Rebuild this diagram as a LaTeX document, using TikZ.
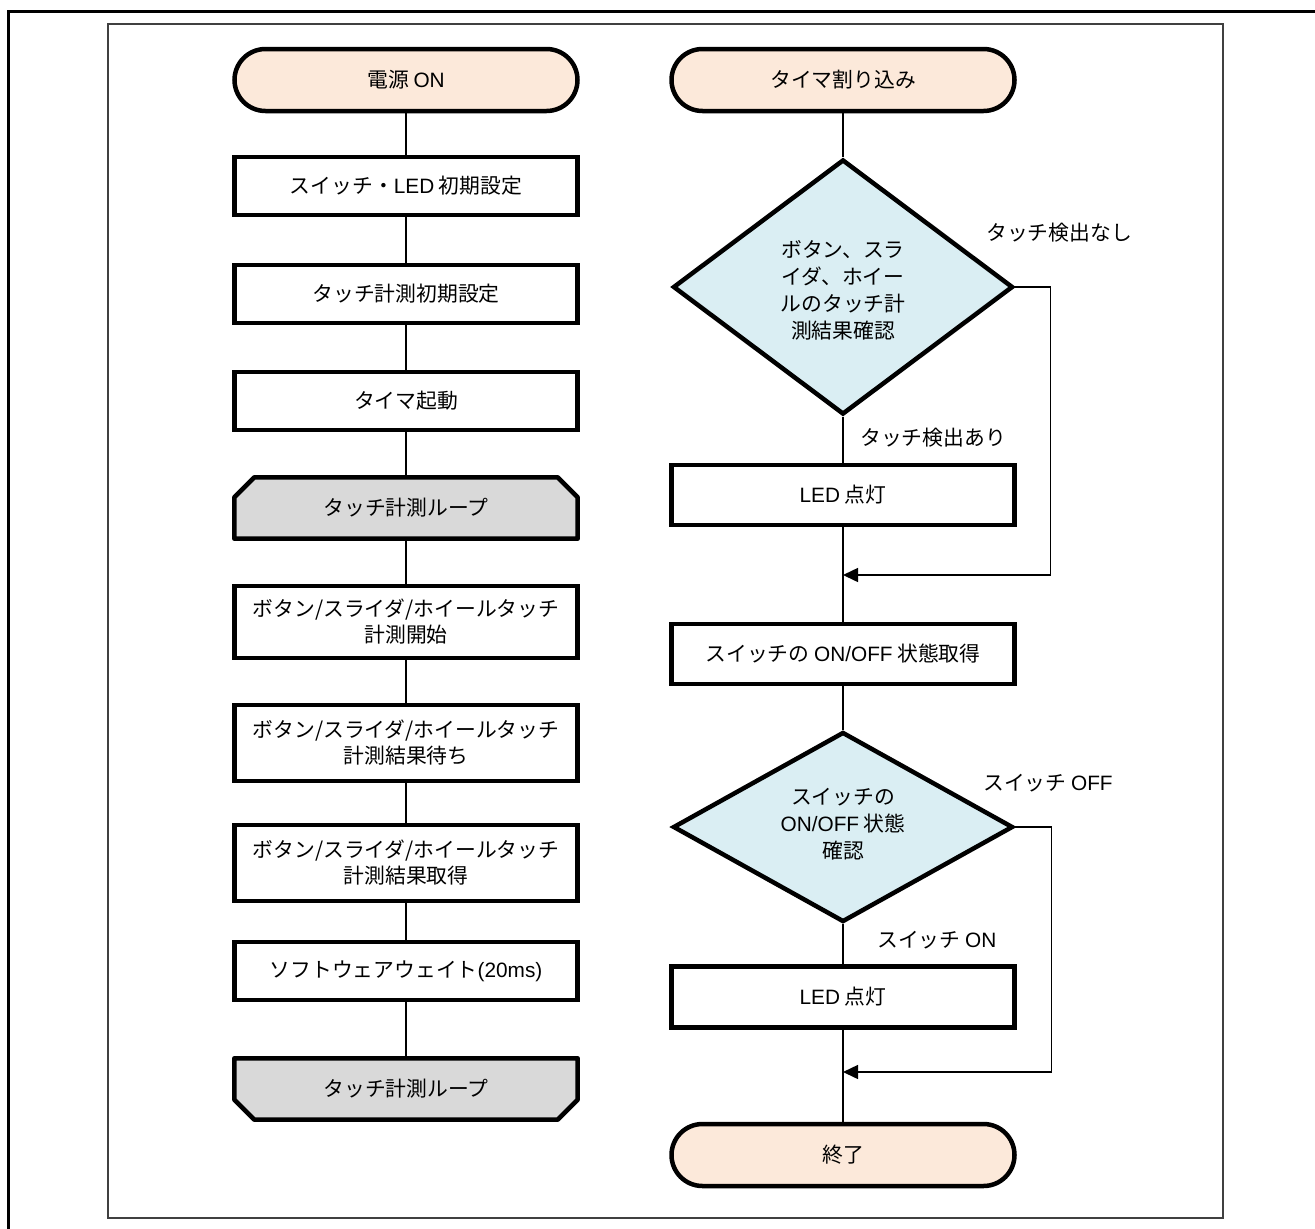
\documentclass[tikz,border=0pt]{standalone}
\usepackage{fontspec}
\setmainfont{Noto Sans CJK JP}
\newfontfamily\latinfont{Liberation Sans}
\newcommand\E[1]{{\latinfont #1}}
\usetikzlibrary{shapes.geometric,arrows.meta,backgrounds,calc}
\definecolor{termfill}{HTML}{FCE9DA}
\definecolor{decfill}{HTML}{DAEEF3}
\definecolor{loopfill}{HTML}{D9D9D9}
\begin{document}
\begin{tikzpicture}[x=1pt,y=-1pt,
  every node/.style={font=\fontsize{20.8}{26}\selectfont, inner sep=0pt, align=center},
  term/.style={draw, line width=4.5pt, fill=termfill, rounded corners=31pt, minimum width=343pt, minimum height=62pt},
  procbox/.style={draw, line width=4.5pt, fill=white, minimum width=343pt, minimum height=58pt},
  loopbox/.style={minimum width=343pt, minimum height=61pt},
  loopline/.style={draw, line width=4.5pt, fill=loopfill, line join=round},
  decision/.style={draw, diamond, line width=4.5pt, fill=decfill, minimum width=340pt, minimum height=255pt},
  conn/.style={line width=1.5pt},
  arr/.style={line width=1.5pt, -{Triangle[length=15pt,width=14pt]}},
  lbl/.style={anchor=west}
]
\useasboundingbox (0,0) rectangle (1315,1229);
% frames
\draw[line width=3pt] (8,1240) -- (8,11) -- (1330,11);
\draw[line width=1.6pt, black!75] (108,24) rectangle (1223,1218);

% left column
\node[term] (start) at (406,80) {電源 \E{ON}};
\node[procbox] (b1) at (406,186) {スイッチ・\E{LED} 初期設定};
\node[procbox] (b2) at (406,294) {タッチ計測初期設定};
\node[procbox] (b3) at (406,401) {タイマ起動};
\node[loopbox] (loop1) at (406,508) {タッチ計測ループ};
\node[procbox, minimum height=72pt] (b4) at (406,622) {ボタン/スライダ/ホイールタッチ\\計測開始};
\node[procbox, minimum height=76pt] (b5) at (406,743) {ボタン/スライダ/ホイールタッチ\\計測結果待ち};
\node[procbox, minimum height=76pt] (b6) at (406,863) {ボタン/スライダ/ホイールタッチ\\計測結果取得};
\node[procbox] (b7) at (406,971) {ソフトウェアウェイト\E{(20ms)}};
\node[loopbox] (loop2) at (406,1089) {タッチ計測ループ};
\begin{scope}[on background layer]
\fill[white] (0,0) rectangle (1315,1229);
\path[loopline] (loop1.south west) -- ($(loop1.north west)+(0,20)$) -- ($(loop1.north west)+(20,0)$)
  -- ($(loop1.north east)+(-20,0)$) -- ($(loop1.north east)+(0,20)$) -- (loop1.south east) -- cycle;
\path[loopline] (loop2.north west) -- ($(loop2.south west)+(0,-20)$) -- ($(loop2.south west)+(20,0)$)
  -- ($(loop2.south east)+(-20,0)$) -- ($(loop2.south east)+(0,-20)$) -- (loop2.north east) -- cycle;
\end{scope}
\draw[conn] (start) -- (b1);
\draw[conn] (b1) -- (b2);
\draw[conn] (b2) -- (b3);
\draw[conn] (b3) -- (loop1);
\draw[conn] (loop1) -- (b4);
\draw[conn] (b4) -- (b5);
\draw[conn] (b5) -- (b6);
\draw[conn] (b6) -- (b7);
\draw[conn] (b7) -- (loop2);

% right column
\node[term] (t2) at (843,80) {タイマ割り込み};
\node[decision] (d1) at (843,287) {};
\node[font=\fontsize{20.8}{27}\selectfont] (d1t) at (843,290) {ボタン、スラ\\イダ、ホイー\\ルのタッチ計\\測結果確認};
\node[procbox, minimum height=60pt] (led1) at (843,495) {\E{LED} 点灯};
\node[procbox, minimum height=60pt] (sw) at (843,654) {スイッチの \E{ON/OFF} 状態取得};
\node[decision, minimum height=190pt] (d2) at (843,827) {};
\node[font=\fontsize{20.8}{27}\selectfont] (d2t) at (843,824) {スイッチの\\\E{ON/OFF} 状態\\確認};
\node[procbox, minimum height=61pt] (led2) at (843,997) {\E{LED} 点灯};
\node[term] (end) at (843,1155) {終了};

\node[lbl] (l1) at (986,233) {タッチ検出なし};
\node[lbl] (l2) at (860,438) {タッチ検出あり};
\node[lbl] (l3) at (983,783) {スイッチ \E{OFF}};
\node[lbl] (l4) at (877,940) {スイッチ \E{ON}};

\coordinate (m1) at (843,575);
\coordinate (m2) at (843,1072);
\draw[conn] (t2) -- (d1);
\draw[conn] (d1) -- (led1);
\draw[conn] (led1) -- (sw);
\draw[conn] (sw) -- (d2);
\draw[conn] (d2) -- (led2);
\draw[conn] (led2) -- (end);
\draw[arr] (d1.east) -- ++(35,0) |- (m1);
\draw[arr] (d2.east) -- ++(36,0) |- (m2);
\end{tikzpicture}
\end{document}
